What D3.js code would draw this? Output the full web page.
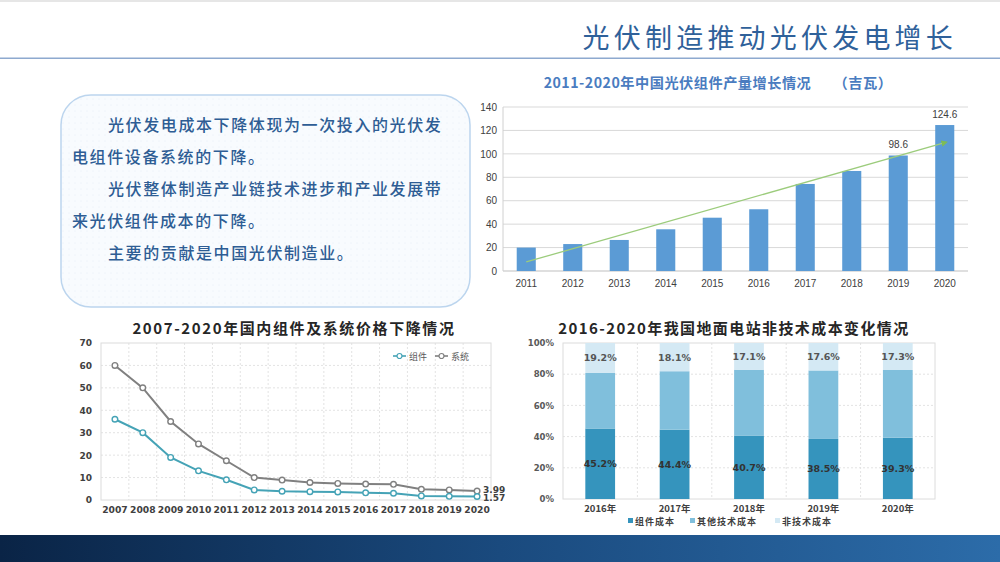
<!DOCTYPE html>
<html><head><meta charset="utf-8">
<script src="https://cdn.jsdelivr.net/npm/d3@7/dist/d3.min.js"></script>
<style>html,body{margin:0;padding:0;background:#fff;}svg{display:block;}</style>
</head><body>
<svg id="c" width="1000" height="562"></svg>
<script>
// ---------- DATA ----------
const pageTitle = "光伏制造推动光伏发电增长";
const boxLines = [
  {indent: true,  text: "光伏发电成本下降体现为一次投入的光伏发"},
  {indent: false, text: "电组件设备系统的下降。"},
  {indent: true,  text: "光伏整体制造产业链技术进步和产业发展带"},
  {indent: false, text: "来光伏组件成本的下降。"},
  {indent: true,  text: "主要的贡献是中国光伏制造业。"}
];

const barTitle = "2011-2020年中国光伏组件产量增长情况      （吉瓦）";
const barYears = ["2011","2012","2013","2014","2015","2016","2017","2018","2019","2020"];
const barValues = [20, 23, 26.5, 35.6, 45.5, 52.7, 74.3, 85.4, 98.6, 124.6];
const barLabeled = ["2019","2020"];
const barTicks = [0,20,40,60,80,100,120,140];
const trendEnds = [7.7, 109.6]; // trend line value at 2011 and at 2020

const lineTitle = "2007-2020年国内组件及系统价格下降情况";
const lineYears = ["2007","2008","2009","2010","2011","2012","2013","2014","2015","2016","2017","2018","2019","2020"];
const moduleValues = [36, 30, 19, 13, 9, 4.5, 3.9, 3.7, 3.6, 3.2, 3.0, 1.8, 1.65, 1.57];
const systemValues = [60, 50, 35, 25, 17.5, 10, 8.9, 7.8, 7.4, 7.1, 7.0, 4.8, 4.5, 3.99];
const lineSeriesNames = ["组件", "系统"];
const lineTicks = [0,10,20,30,40,50,60,70];

const stackTitle = "2016-2020年我国地面电站非技术成本变化情况";
const stackYears = ["2016年","2017年","2018年","2019年","2020年"];
const stackModule = [45.2, 44.4, 40.7, 38.5, 39.3];
const stackOther  = [35.6, 37.5, 42.2, 43.9, 43.4];
const stackNonTech = [19.2, 18.1, 17.1, 17.6, 17.3];
const stackNames = ["组件成本", "其他技术成本", "非技术成本"];
const stackTicks = [0,20,40,60,80,100];

// ---------- DRAW ----------
const svg = d3.select("#c");
const CJK = "'Noto Sans CJK SC','Noto Sans',sans-serif";
const defs = svg.append("defs");

// page frame
svg.append("rect").attr("x",0).attr("y",0).attr("width",1000).attr("height",2).attr("fill","#e6e6e6");
svg.append("text").attr("x",957).attr("y",48).attr("text-anchor","end")
  .attr("font-family",CJK).attr("font-size",27).attr("letter-spacing",4.2)
  .attr("fill","#2f619a").text(pageTitle);
svg.append("rect").attr("x",0).attr("y",57.5).attr("width",1000).attr("height",1.5).attr("fill","#8ea9cf");

// bottom strip
const g1 = defs.append("linearGradient").attr("id","strip").attr("x1","0").attr("x2","1").attr("y1","0").attr("y2","0");
g1.append("stop").attr("offset","0").attr("stop-color","#0a2446");
g1.append("stop").attr("offset","0.5").attr("stop-color","#1a4a7e");
g1.append("stop").attr("offset","1").attr("stop-color","#2c6ca9");
svg.append("rect").attr("x",0).attr("y",535).attr("width",1000).attr("height",27).attr("fill","url(#strip)");

// text box
const pat = defs.append("pattern").attr("id","dots").attr("width",6).attr("height",6).attr("patternUnits","userSpaceOnUse");
pat.append("rect").attr("width",6).attr("height",6).attr("fill","#f8fbfe");
pat.append("circle").attr("cx",3).attr("cy",3).attr("r",0.6).attr("fill","#e6eef7");
svg.append("rect").attr("x",61).attr("y",95).attr("width",409).attr("height",212).attr("rx",30)
  .attr("fill","url(#dots)").attr("stroke","#bcd5ee").attr("stroke-width",1.5);
const lineY = d3.scaleLinear().domain([0,4]).range([131,259]);
svg.append("g").selectAll("text").data(boxLines).join("text")
  .attr("x",d=>d.indent?108:72).attr("y",(d,i)=>lineY(i))
  .attr("font-family",CJK).attr("font-size",16).attr("font-weight",500).attr("letter-spacing",1.6)
  .attr("fill","#2e5d94").text(d=>d.text);

// ---------- top bar chart ----------
(function(){
  const x = d3.scaleBand().domain(barYears).range([503,968]).paddingInner(0.59).paddingOuter(0.295);
  const y = d3.scaleLinear().domain([0,140]).range([271,107]);
  const g = svg.append("g");
  g.append("text").attr("x",718).attr("y",88).attr("text-anchor","middle").attr("xml:space","preserve")
    .style("white-space","pre").attr("font-family",CJK).attr("font-size",14.2).attr("font-weight","bold")
    .attr("letter-spacing",0.5).attr("fill","#4a7cc0").text(barTitle);
  g.append("g").selectAll("line").data(barTicks).join("line")
    .attr("x1",503).attr("x2",968).attr("y1",d=>y(d)).attr("y2",d=>y(d))
    .attr("stroke",d=>d===0?"#bfbfbf":"#d9d9d9").attr("stroke-width",1);
  g.append("line").attr("x1",503).attr("x2",503).attr("y1",y(140)).attr("y2",y(0)).attr("stroke","#d0d0d0");
  const ya = d3.axisLeft(y).tickValues(barTicks).tickSize(0).tickPadding(6);
  g.append("g").attr("transform","translate(503,0)").call(ya).call(s=>s.select(".domain").remove())
    .selectAll("text").attr("font-family","'Liberation Sans',Arial,sans-serif").attr("font-size",10).attr("fill","#404040");
  const xa = d3.axisBottom(x).tickSize(0).tickPadding(9);
  g.append("g").attr("transform","translate(0,271)").call(xa).call(s=>s.select(".domain").remove())
    .selectAll("text").attr("font-family","'Liberation Sans',Arial,sans-serif").attr("font-size",10).attr("fill","#404040");
  g.append("g").selectAll("rect").data(barYears).join("rect")
    .attr("x",d=>x(d)).attr("width",x.bandwidth())
    .attr("y",(d,i)=>y(barValues[i])).attr("height",(d,i)=>y(0)-y(barValues[i]))
    .attr("fill","#5b9bd5");
  g.append("g").selectAll("text").data(barYears.filter(d=>barLabeled.includes(d))).join("text")
    .attr("x",d=>x(d)+x.bandwidth()/2).attr("y",d=>y(barValues[barYears.indexOf(d)])-7)
    .attr("text-anchor","middle").attr("font-family","'Liberation Sans',Arial,sans-serif").attr("font-size",10)
    .attr("fill","#404040").text(d=>barValues[barYears.indexOf(d)]);
  const mk = defs.append("marker").attr("id","tri").attr("viewBox","0 0 10 10").attr("refX",5).attr("refY",5)
    .attr("markerWidth",5).attr("markerHeight",5).attr("orient","auto");
  mk.append("path").attr("d","M0,0L10,5L0,10Z").attr("fill","#7dbb55");
  const c0 = x(barYears[0])+x.bandwidth()/2, c1 = x(barYears[barYears.length-1])+x.bandwidth()/2;
  g.append("line").attr("x1",c0).attr("y1",y(trendEnds[0])).attr("x2",c1).attr("y2",y(trendEnds[1]))
    .attr("stroke","#9ccc7c").attr("stroke-width",1.3).attr("marker-end","url(#tri)");
})();

// ---------- bottom-left line chart ----------
(function(){
  const x = d3.scaleBand().domain(lineYears).range([101,491]);
  const cx = d => x(d)+x.bandwidth()/2;
  const y = d3.scaleLinear().domain([0,70]).range([500,343]);
  const g = svg.append("g");
  g.append("text").attr("x",294).attr("y",334).attr("text-anchor","middle")
    .attr("font-family",CJK).attr("font-size",15).attr("font-weight","bold").attr("letter-spacing",1.6)
    .attr("fill","#262626").text(lineTitle);
  g.append("g").selectAll("line").data(lineTicks.slice(1,-1)).join("line")
    .attr("x1",101).attr("x2",491).attr("y1",d=>y(d)).attr("y2",d=>y(d))
    .attr("stroke","#e3e3e3").attr("stroke-dasharray","2,2");
  g.append("g").selectAll("line").data(lineYears.slice(1)).join("line")
    .attr("x1",d=>x(d)).attr("x2",d=>x(d)).attr("y1",343).attr("y2",500)
    .attr("stroke","#e3e3e3").attr("stroke-dasharray","2,2");
  g.append("rect").attr("x",101).attr("y",343).attr("width",390).attr("height",157)
    .attr("fill","none").attr("stroke","#dcdcdc");
  const fontNum = "'DejaVu Sans',sans-serif";
  g.append("g").attr("transform","translate(101,0)")
    .call(d3.axisLeft(y).tickValues(lineTicks).tickSize(0).tickPadding(9)).call(s=>s.select(".domain").remove())
    .selectAll("text").attr("font-family",fontNum).attr("font-size",9).attr("font-weight","bold").attr("fill","#404040");
  g.append("g").attr("transform","translate(0,500)")
    .call(d3.axisBottom(x).tickSize(0).tickPadding(6)).call(s=>s.select(".domain").remove())
    .selectAll("text").attr("font-family",fontNum).attr("font-size",9.2).attr("font-weight","bold").attr("fill","#404040");
  const series = [
    {name: lineSeriesNames[0], values: moduleValues, color: "#45a3b6"},
    {name: lineSeriesNames[1], values: systemValues, color: "#808080"}
  ];
  const line = d3.line().x((d,i)=>cx(lineYears[i])).y(d=>y(d));
  series.slice().reverse().forEach(s=>{
    g.append("path").datum(s.values).attr("d",line).attr("fill","none")
      .attr("stroke",s.color).attr("stroke-width",2);
    g.append("g").selectAll("circle").data(s.values).join("circle")
      .attr("cx",(d,i)=>cx(lineYears[i])).attr("cy",d=>y(d)).attr("r",2.8)
      .attr("fill","#fff").attr("stroke",s.color).attr("stroke-width",1.4);
  });
  // end labels
  const last = lineYears.length-1;
  [[systemValues[last], -1],[moduleValues[last], 1]].forEach(([v,dy])=>{
    g.append("text").attr("x",cx(lineYears[last])+6).attr("y",y(v)+3.5+dy*1.5)
      .attr("font-family",fontNum).attr("font-size",9).attr("font-weight","bold").attr("fill","#404040")
      .text(v.toFixed(2));
  });
  // legend
  const lg = g.append("g").selectAll("g").data(series).join("g")
    .attr("transform",(d,i)=>`translate(${393+i*42},356)`);
  lg.append("line").attr("x1",0).attr("x2",13).attr("stroke",d=>d.color).attr("stroke-width",1.6);
  lg.append("circle").attr("cx",6.5).attr("r",2.5).attr("fill","#fff").attr("stroke",d=>d.color).attr("stroke-width",1.2);
  lg.append("text").attr("x",16).attr("y",3.5).attr("font-family",CJK).attr("font-size",9)
    .attr("fill","#595959").text(d=>d.name);
})();

// ---------- bottom-right stacked chart ----------
(function(){
  const x = d3.scaleBand().domain(stackYears).range([563,935]).paddingInner(0.6).paddingOuter(0.3);
  const y = d3.scaleLinear().domain([0,100]).range([499,343]);
  const g = svg.append("g");
  g.append("text").attr("x",734).attr("y",334).attr("text-anchor","middle")
    .attr("font-family",CJK).attr("font-size",15).attr("font-weight","bold").attr("letter-spacing",1.4)
    .attr("fill","#262626").text(stackTitle);
  g.append("g").selectAll("line").data(stackTicks.slice(1,-1)).join("line")
    .attr("x1",563).attr("x2",935).attr("y1",d=>y(d)).attr("y2",d=>y(d))
    .attr("stroke","#e3e3e3").attr("stroke-dasharray","2,2");
  g.append("g").selectAll("line").data(stackYears.slice(1)).join("line")
    .attr("x1",d=>x(d)-x.step()*x.paddingInner()/2).attr("x2",d=>x(d)-x.step()*x.paddingInner()/2)
    .attr("y1",343).attr("y2",499).attr("stroke","#e3e3e3").attr("stroke-dasharray","2,2");
  g.append("rect").attr("x",563).attr("y",343).attr("width",372).attr("height",156)
    .attr("fill","none").attr("stroke","#dcdcdc");
  const fontNum = "'DejaVu Sans',sans-serif";
  g.append("g").attr("transform","translate(563,0)")
    .call(d3.axisLeft(y).tickValues(stackTicks).tickSize(0).tickPadding(9).tickFormat(d=>d+"%"))
    .call(s=>s.select(".domain").remove())
    .selectAll("text").attr("font-family",fontNum).attr("font-size",8.5).attr("font-weight","bold").attr("fill","#595959");
  g.append("g").attr("transform","translate(0,499)")
    .call(d3.axisBottom(x).tickSize(0).tickPadding(6)).call(s=>s.select(".domain").remove())
    .selectAll("text").attr("font-family",CJK).attr("font-size",9.5).attr("font-weight","bold").attr("fill","#404040");
  const rows = stackYears.map((yr,i)=>({yr, m: stackModule[i], o: stackOther[i], n: stackNonTech[i]}));
  const stack = d3.stack().keys(["m","o","n"])(rows);
  const colors = ["#3594bd","#80bfdc","#d4e9f4"];
  stack.forEach((layer,k)=>{
    g.append("g").selectAll("rect").data(layer).join("rect")
      .attr("x",d=>x(d.data.yr)).attr("width",x.bandwidth())
      .attr("y",d=>y(d[1])).attr("height",d=>y(d[0])-y(d[1]))
      .attr("fill",colors[k]);
  });
  [0,2].forEach(k=>{
    g.append("g").selectAll("text").data(stack[k]).join("text")
      .attr("x",d=>x(d.data.yr)+x.bandwidth()/2).attr("y",d=>y((d[0]+d[1])/2)+3.5)
      .attr("text-anchor","middle").attr("font-family",fontNum).attr("font-size",9.5).attr("font-weight","bold")
      .attr("fill",k===0?"#333":"#555")
      .text(d=>(d[1]-d[0]).toFixed(1)+"%");
  });
  const lx = [628, 690, 775];
  const lg = g.append("g").selectAll("g").data(stackNames).join("g")
    .attr("transform",(d,i)=>`translate(${lx[i]},521)`);
  lg.append("rect").attr("x",0).attr("y",-3).attr("width",5).attr("height",5).attr("fill",(d,i)=>colors[i]);
  lg.append("text").attr("x",7).attr("y",3.5).attr("font-family",CJK).attr("font-size",9).attr("font-weight","bold")
    .attr("letter-spacing",1).attr("fill","#404040").text(d=>d);
})();
</script>
</body></html>
